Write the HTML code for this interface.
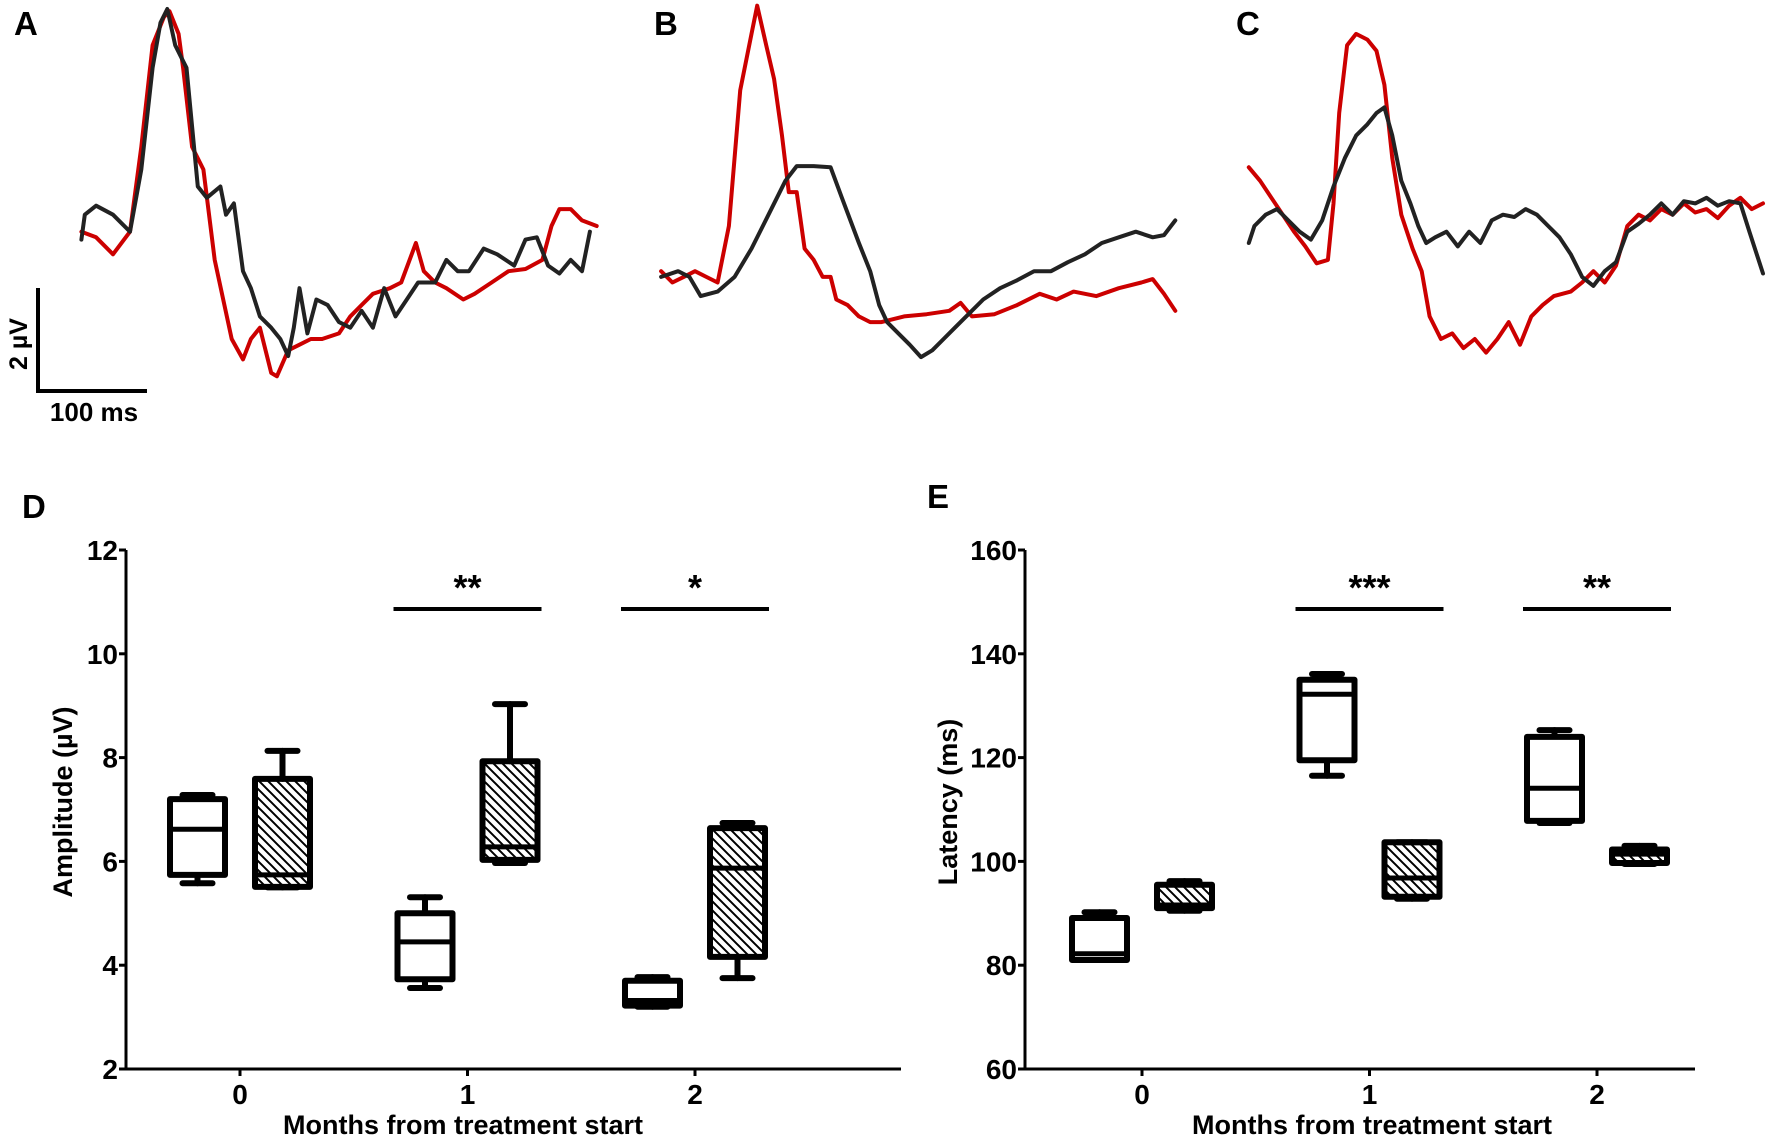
<!DOCTYPE html>
<html><head><meta charset="utf-8">
<style>
html,body{margin:0;padding:0;background:#fff;}
svg{display:block;font-family:"Liberation Sans",Arial,sans-serif;font-weight:bold;}
</style></head>
<body>
<svg id="fig" width="1772" height="1139" viewBox="0 0 1772 1139" xmlns="http://www.w3.org/2000/svg">
<defs>
<pattern id="hatch" patternUnits="userSpaceOnUse" width="9" height="9">
<path d="M0,0 L9,9 M-3,6 L3,12 M6,-3 L12,3" stroke="#000" stroke-width="2"/>
</pattern>
</defs>
<g id="traces"></g>
<g id="boxes"></g>
</svg>
<script>
const NS="http://www.w3.org/2000/svg";
const svg=document.getElementById('fig');
function mk(tag,attrs,parent,txt){const e=document.createElementNS(NS,tag);for(const k in attrs)e.setAttribute(k,attrs[k]);if(txt!==undefined)e.textContent=txt;(parent||svg).appendChild(e);return e;}

// ---- Waveform data (sample points read in reference display units) ----
const traceA_red=[[72,205],[85,210],[100,225],[115,205],[125,130],[135,40],[145,15],[150,10],[158,30],[162,60],[170,130],[180,150],[190,230],[205,300],[215,318],[222,300],[230,290],[240,330],[245,333],[255,310],[265,305],[275,300],[285,300],[300,295],[310,280],[320,270],[330,260],[345,255],[355,250],[368,215],[375,240],[385,250],[395,255],[410,265],[420,260],[435,250],[450,240],[465,238],[480,230],[488,200],[495,185],[505,185],[515,195],[528,200]];
const traceA_black=[[72,212],[75,190],[85,182],[100,190],[115,205],[125,150],[135,60],[142,20],[148,8],[155,40],[160,50],[165,60],[175,165],[183,175],[195,165],[200,190],[207,180],[215,240],[222,255],[230,280],[240,290],[248,300],[255,315],[260,290],[265,255],[272,295],[280,265],[290,270],[300,285],[310,290],[320,275],[330,290],[340,255],[350,280],[360,265],[370,250],[385,250],[395,230],[405,240],[415,240],[428,220],[440,225],[455,235],[465,212],[475,210],[485,235],[495,242],[505,230],[515,240],[522,205]];
const traceB_red=[[585,240],[595,250],[605,245],[615,240],[625,245],[635,250],[645,200],[655,80],[665,30],[670,5],[678,40],[685,70],[692,120],[698,170],[705,170],[712,220],[720,230],[728,245],[735,245],[740,265],[750,270],[760,280],[770,285],[780,285],[800,280],[820,278],[840,275],[850,268],[860,280],[880,278],[900,270],[920,260],[935,265],[950,258],[970,262],[990,255],[1010,250],[1020,247],[1030,260],[1040,275]];
const traceB_black=[[585,245],[600,240],[610,245],[620,262],[635,258],[650,245],[665,220],[680,190],[695,160],[705,147],[720,147],[735,148],[745,175],[760,215],[770,240],[778,270],[785,285],[795,295],[805,305],[815,316],[825,310],[835,300],[845,290],[855,280],[870,265],[885,255],[900,248],[915,240],[930,240],[945,232],[960,225],[975,215],[990,210],[1005,205],[1020,210],[1030,208],[1040,195]];
const traceC_red=[[1105,148],[1115,160],[1125,175],[1135,190],[1145,205],[1155,218],[1165,233],[1175,230],[1180,180],[1185,100],[1192,40],[1200,30],[1210,35],[1218,45],[1225,75],[1232,140],[1240,190],[1250,220],[1258,240],[1265,280],[1275,300],[1285,295],[1295,308],[1305,300],[1315,312],[1325,300],[1335,285],[1345,305],[1355,280],[1365,270],[1375,262],[1390,258],[1400,250],[1410,240],[1420,250],[1430,235],[1440,200],[1450,190],[1460,195],[1470,185],[1480,190],[1490,180],[1500,188],[1510,185],[1520,193],[1530,182],[1540,175],[1550,185],[1560,180]];
const traceC_black=[[1105,215],[1110,200],[1120,190],[1130,185],[1140,195],[1150,205],[1160,212],[1170,195],[1180,165],[1190,140],[1200,120],[1210,110],[1218,100],[1225,95],[1232,120],[1240,160],[1248,180],[1255,200],[1262,215],[1270,210],[1280,205],[1290,218],[1300,205],[1310,215],[1320,195],[1330,190],[1340,192],[1350,185],[1360,190],[1370,200],[1380,210],[1390,225],[1400,245],[1410,253],[1420,240],[1430,232],[1440,205],[1450,198],[1460,190],[1470,180],[1480,190],[1490,178],[1500,180],[1510,175],[1520,182],[1530,178],[1540,180],[1548,205],[1560,242]];

// ---- Box plot data ----
const categories=["0","1","2"];
// [whiskerLow, q1, median, q3, whiskerHigh]
const ampControl=[[5.58,5.74,6.62,7.2,7.28],[3.56,3.73,4.45,5.0,5.31],[3.2,3.22,3.32,3.7,3.77]];
const ampTreated=[[5.5,5.51,5.74,7.59,8.13],[5.97,6.03,6.28,7.93,9.03],[3.75,4.16,5.87,6.64,6.74]];
const latControl=[[81,81.0,82.2,89.1,90.2],[116.5,119.5,132.2,135,136.1],[107.4,107.8,114.1,124,125.3]];
const latTreated=[[90.5,91.0,91.6,95.5,96.2],[92.8,93.2,96.8,103.7,103.7],[99.5,99.7,101.4,102.3,103]];
const ampTicks=[2,4,6,8,10,12];
const latTicks=[60,80,100,120,140,160];
const ampSig=[{cat:1,label:"**",val:10.8},{cat:2,label:"*",val:10.8}];
const latSig=[{cat:1,label:"***",val:136},{cat:2,label:"**",val:136}];

const S=1772/1568;
const tg=document.getElementById('traces');
function drawTrace(pts,color,name){
  const p=mk('polyline',{points:pts.map(q=>(q[0]*S).toFixed(1)+','+(q[1]*S).toFixed(1)).join(' '),fill:'none',stroke:color,'stroke-width':4,'stroke-linejoin':'round','stroke-linecap':'round'},tg);
  
  
}
drawTrace(traceA_red,'#cc0000','trace-a-red');
drawTrace(traceA_black,'#222','trace-a-black');
drawTrace(traceB_red,'#cc0000','trace-b-red');
drawTrace(traceB_black,'#222','trace-b-black');
drawTrace(traceC_red,'#cc0000','trace-c-red');
drawTrace(traceC_black,'#222','trace-c-black');

// scale bar
const sb=mk('path',{d:'M38,288 L38,391 L147,391',fill:'none',stroke:'#000','stroke-width':4},tg);


let t=mk('text',{x:0,y:0,'font-size':25,transform:'translate(27,344) rotate(-90)','text-anchor':'middle'},tg,'2 µV');


t=mk('text',{x:94,y:421,'font-size':26,'text-anchor':'middle'},tg,'100 ms');



const panelLabels=[["A",14,35],["B",654,35],["C",1236,35],["D",22,518],["E",927,508]];
panelLabels.forEach(l=>{const e=mk('text',{x:l[1],y:l[2],'font-size':33},svg,l[0]);
  
  });

const bg=document.getElementById('boxes');
function boxPanel(opt){
  const g=mk('g',{},bg);
  
  
  const top=550,bot=1069;
  const y=v=>bot-(v-opt.min)/(opt.max-opt.min)*(bot-top);
  const x=i=>opt.x0+i*227.5;
  const ax=mk('path',{d:`M${opt.ax},${top} L${opt.ax},${bot} L${opt.axEnd},${bot}`,fill:'none',stroke:'#000','stroke-width':3},g);
  
  
  opt.ticks.forEach(v=>{
    const tk=mk('line',{x1:opt.ax-7,x2:opt.ax,y1:y(v),y2:y(v),stroke:'#000','stroke-width':3},g);
    
    
    const tl=mk('text',{x:opt.ax-8,y:y(v)+10,'font-size':28,'text-anchor':'end'},g,String(v));
    
    
  });
  categories.forEach((c,i)=>{
    const tk=mk('line',{x1:x(i),x2:x(i),y1:bot,y2:bot+7,stroke:'#000','stroke-width':3},g);
    
    
    const tl=mk('text',{x:x(i),y:bot+35,'font-size':28,'text-anchor':'middle'},g,c);
    
    
  });
  const xt=mk('text',{x:opt.xtx,y:1134,'font-size':27,'text-anchor':'middle'},g,'Months from treatment start');
  
  
  const yt=mk('text',{x:0,y:0,'font-size':27,'text-anchor':'middle',transform:`translate(${opt.ytx},802) rotate(-90)`},g,opt.ytitle);
  
  
  function drawBox(d,cx,hatched,name){
    const bgp=mk('g',{},g);
    
    
    const w=55;
    const sw={stroke:'#000','stroke-width':6,'stroke-linecap':'round'};
    mk('line',Object.assign({x1:cx,x2:cx,y1:y(d[4]),y2:y(d[3])},sw),bgp);
    mk('line',Object.assign({x1:cx,x2:cx,y1:y(d[1]),y2:y(d[0])},sw),bgp);
    mk('line',Object.assign({x1:cx-15,x2:cx+15,y1:y(d[4]),y2:y(d[4])},sw),bgp);
    mk('line',Object.assign({x1:cx-15,x2:cx+15,y1:y(d[0]),y2:y(d[0])},sw),bgp);
    mk('rect',{x:cx-w/2,y:y(d[3]),width:w,height:y(d[1])-y(d[3]),fill:hatched?'url(#hatch)':'#fff',stroke:'#000','stroke-width':6,'stroke-linejoin':'round'},bgp);
    mk('line',{x1:cx-w/2,x2:cx+w/2,y1:y(d[2]),y2:y(d[2]),stroke:'#000','stroke-width':5},bgp);
  }
  categories.forEach((c,i)=>{
    drawBox(opt.ctrl[i],x(i)-42.5,false,'box-control-'+c);
    drawBox(opt.trt[i],x(i)+42.5,true,'box-treated-'+c);
  });
  opt.sig.forEach(s=>{
    const cx=x(s.cat);
    const l=mk('line',{x1:cx-74,x2:cx+74,y1:609,y2:609,stroke:'#000','stroke-width':4},g);
    
    
    const st=mk('text',{x:cx,y:600,'font-size':36,'text-anchor':'middle'},g,s.label);
    
    
  });
}
boxPanel({name:'amplitude-panel',min:2,max:12,ax:126,axEnd:901,x0:240,xtx:463,ticks:ampTicks,ctrl:ampControl,trt:ampTreated,sig:ampSig,ytitle:'Amplitude (µV)',ytx:72});
boxPanel({name:'latency-panel',min:60,max:160,ax:1025,axEnd:1695,x0:1142,xtx:1372,ticks:latTicks,ctrl:latControl,trt:latTreated,sig:latSig,ytitle:'Latency (ms)',ytx:957});
</script>
</body></html>
